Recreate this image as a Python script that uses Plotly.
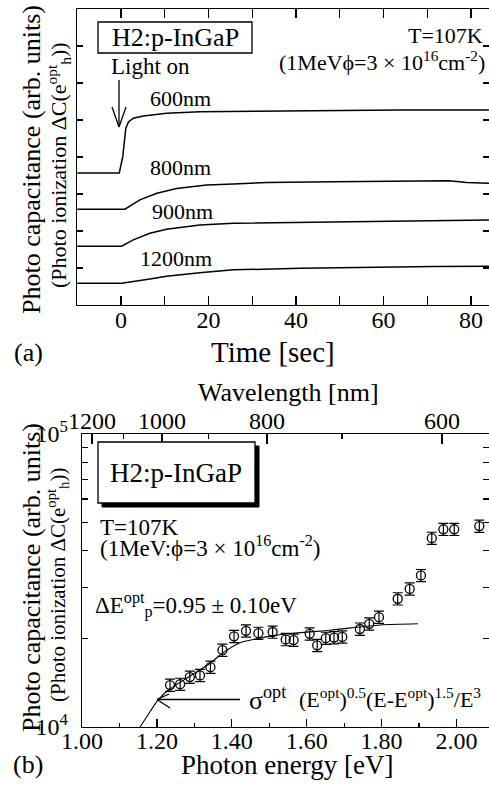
import plotly.graph_objects as go

W, H = 489, 789
FONT = "Liberation Serif"


def X(px):
    return px / W


def Y(py):
    return 1 - py / H


# ---------------- panel (a): transients ----------------
time_600 = [-10, -0.4, 0.4, 0.8, 1.1, 1.7, 2.8, 5.1, 10.4, 18, 33.3, 48.5, 63.8, 84.1]
cap_600 = [3.57, 3.57, 4.01, 4.46, 4.78, 4.95, 5.05, 5.11, 5.18, 5.22, 5.24, 5.27, 5.27, 5.27]

time_800 = [-10, 0.9, 4.3, 8.2, 12.7, 19.6, 25.7, 33.3, 48.5, 63.8, 71.4, 75, 79, 84.1]
cap_800 = [2.59, 2.59, 2.84, 3.02, 3.15, 3.24, 3.27, 3.31, 3.33, 3.35, 3.37, 3.36, 3.31, 3.29]

time_900 = [-10, 0.15, 2.8, 6.6, 10.4, 18, 25.7, 41, 56, 71.4, 84.1]
cap_900 = [1.59, 1.59, 1.76, 1.94, 2.05, 2.16, 2.21, 2.23, 2.25, 2.28, 2.30]

time_1200 = [-10, 0.15, 6.6, 10.4, 18, 25.7, 41, 56, 71.4, 84.1]
cap_1200 = [0.59, 0.59, 0.70, 0.78, 0.87, 0.95, 0.99, 1.02, 1.04, 1.05]

curve_labels = ["600nm", "800nm", "900nm", "1200nm"]

# ---------------- panel (b): spectrum ----------------
energy = [1.235, 1.262, 1.288, 1.315, 1.343, 1.375, 1.406, 1.438, 1.471, 1.509,
          1.544, 1.565, 1.608, 1.628, 1.651, 1.673, 1.695, 1.742, 1.767, 1.793,
          1.843, 1.875, 1.905, 1.934, 1.965, 1.994, 2.061]
capacitance = [1.39e4, 1.40e4, 1.48e4, 1.50e4, 1.60e4, 1.83e4, 2.04e4, 2.13e4, 2.09e4, 2.11e4,
               1.99e4, 1.98e4, 2.08e4, 1.90e4, 2.01e4, 2.02e4, 2.03e4, 2.16e4, 2.25e4, 2.37e4,
               2.74e4, 2.96e4, 3.29e4, 4.41e4, 4.73e4, 4.73e4, 4.85e4]
cap_err = [670, 670, 710, 720, 770, 880, 980, 1020, 1000, 1010,
           960, 950, 1000, 910, 960, 970, 970, 1040, 1080, 1140,
           1320, 1420, 1580, 2100, 2270, 2270, 2330]

fit_energy = [1.155, 1.182, 1.204, 1.235, 1.288, 1.342, 1.376, 1.422, 1.467, 1.510, 1.547, 1.662, 1.796, 1.897]
fit_cap = [1.00e4, 1.13e4, 1.24e4, 1.35e4, 1.49e4, 1.65e4, 1.79e4, 1.94e4, 2.00e4, 2.05e4, 2.08e4, 2.14e4, 2.23e4, 2.25e4]

wavelength_major = [1200, 1000, 800, 600]
wavelength_minor = [1100, 900, 700]
log_minor = [2e4, 3e4, 4e4, 5e4, 6e4, 7e4, 8e4, 9e4]

fig = go.Figure()

line_style = dict(color="black", width=1.5)
for t, c in [(time_600, cap_600), (time_800, cap_800), (time_900, cap_900), (time_1200, cap_1200)]:
    fig.add_trace(go.Scatter(x=t, y=c, mode="lines", line=line_style, xaxis="x", yaxis="y",
                             showlegend=False, hoverinfo="skip"))

fig.add_trace(go.Scatter(x=fit_energy, y=fit_cap, mode="lines",
                         line=dict(color="black", width=1.1, shape="spline", smoothing=0.7),
                         xaxis="x2", yaxis="y2", showlegend=False, hoverinfo="skip"))
fig.add_trace(go.Scatter(x=energy, y=capacitance, mode="markers",
                         marker=dict(symbol="circle-open", size=9, color="black", line=dict(width=1.3)),
                         error_y=dict(type="data", array=cap_err, visible=True, color="black",
                                      thickness=1.2, width=5),
                         xaxis="x2", yaxis="y2", showlegend=False, hoverinfo="skip"))
# helper traces so the extra axes get drawn
fig.add_trace(go.Scatter(x=[None], y=[None], xaxis="x3", yaxis="y2", showlegend=False))
fig.add_trace(go.Scatter(x=[None], y=[None], xaxis="x", yaxis="y3", showlegend=False))
fig.add_trace(go.Scatter(x=[None], y=[None], xaxis="x2", yaxis="y4", showlegend=False))

axis_common = dict(showgrid=False, zeroline=False, showline=True, linecolor="black", linewidth=1.3,
                   ticks="inside", tickcolor="black", tickwidth=1.2, automargin=False,
                   tickfont=dict(family=FONT, size=24, color="black"))

wl_vals = [1000.0 / w for w in wavelength_major]
wl_minor_vals = [1000.0 / w for w in wavelength_minor]

fig.update_layout(
    template="none",
    width=W, height=H,
    margin=dict(l=0, r=0, t=0, b=0, pad=0, autoexpand=False),
    paper_bgcolor="white", plot_bgcolor="white",
    font=dict(family=FONT, color="black"),
    showlegend=False,
    xaxis=dict(axis_common, domain=[X(77), 1], anchor="y", range=[-10.06, 84.11],
               tickmode="linear", tick0=0, dtick=20, ticklen=9, mirror="allticks",
               ticklabelstandoff=-7,
               minor=dict(tickmode="linear", tick0=0, dtick=10, ticks="inside", ticklen=4,
                          tickcolor="black", tickwidth=1.2)),
    yaxis=dict(axis_common, domain=[Y(305), Y(9)], anchor="x", range=[0, 8],
               tickmode="array", tickvals=[1, 2, 3, 4, 5, 6, 7], ticklen=6, showticklabels=False),
    yaxis3=dict(axis_common, overlaying="y", side="right", anchor="x", range=[0, 8], showline=False,
                tickmode="array", tickvals=[1, 2, 3, 4, 5, 6, 7], ticklen=6, showticklabels=False),
    xaxis2=dict(axis_common, domain=[X(82), 1], anchor="y2", range=[1.0, 2.0868],
                tickmode="linear", tick0=1.0, dtick=0.2, tickformat=".2f", ticklen=8,
                ticklabelstandoff=-8,
                minor=dict(tickmode="linear", tick0=1.0, dtick=0.1, ticks="inside", ticklen=4,
                           tickcolor="black", tickwidth=1.2)),
    yaxis2=dict(axis_common, domain=[Y(727), Y(434)], anchor="x2", type="log", range=[4, 5],
                tickmode="array", tickvals=[1e4, 1e5], ticktext=["10<sup>4</sup>", "10<sup>5</sup>"],
                ticklen=7, ticklabelstandoff=8,
                minor=dict(tickmode="array", tickvals=log_minor, ticks="inside", ticklen=6,
                           tickcolor="black", tickwidth=1.2)),
    xaxis3=dict(axis_common, overlaying="x2", side="top", anchor="y2", range=[0.80952, 1.77857],
                tickmode="array", tickvals=wl_vals, ticktext=[str(w) for w in wavelength_major],
                ticklen=10, ticklabelstandoff=-6,
                minor=dict(tickmode="array", tickvals=wl_minor_vals, ticks="inside", ticklen=5,
                           tickcolor="black", tickwidth=1.2)),
    yaxis4=dict(axis_common, overlaying="y2", side="right", anchor="x2", type="log", range=[4, 5],
                showline=False, tickmode="array", tickvals=log_minor, ticklen=6, showticklabels=False),
)


def ann(text, x, y, size, xanchor="center", yanchor="middle", angle=0):
    fig.add_annotation(text=text, x=x, y=y, xref="paper", yref="paper", showarrow=False,
                       xanchor=xanchor, yanchor=yanchor, textangle=angle,
                       font=dict(family=FONT, size=size, color="black"))


# axis titles
ann("Time [sec]", X(273), Y(352), 29)
ann("(a)", X(28), Y(352), 26)
ann("Wavelength [nm]", X(288), Y(392), 26)
ann("Photon energy [eV]", X(287), Y(765), 27)
ann("(b)", X(28), Y(764), 26)
ann("Photo capacitance (arb. units)", X(31), Y(160), 26, angle=-90)
ann("(Photo ionization ΔC(e<sup>opt</sup><sub>h</sub>))", X(58), Y(165), 22, angle=-90)
ann("Photo capacitance (arb. units)", X(31), Y(578), 26, angle=-90)
ann("(Photo ionization ΔC(e<sup>opt</sup><sub>h</sub>))", X(57), Y(585), 21, angle=-90)

# panel (a) texts
ann("H2:p-InGaP", X(175), Y(37.5), 26)
ann("Light on", X(150), Y(67), 23)
ann("T=107K", X(485), Y(35), 22, xanchor="right")
ann("(1MeVϕ=3 × 10<sup>16</sup>cm<sup>-2</sup>)", X(487), Y(61), 22, xanchor="right")
for lab, px, py in zip(curve_labels, [180, 180, 182, 176], [98, 167, 212, 258]):
    ann(lab, X(px), Y(py), 22)

# panel (b) texts
ann("H2:p-InGaP", X(176), Y(473), 27)
ann("T=107K", X(98), Y(527), 23, xanchor="left")
ann("(1MeV:ϕ=3 × 10<sup>16</sup>cm<sup>-2</sup>)", X(98), Y(546), 23, xanchor="left")
ann("ΔE<sup>opt</sup><sub>p</sub>=0.95 ± 0.10eV", X(93), Y(605), 23, xanchor="left")
ann("σ<sup>opt</sup>", X(247), Y(698), 26, xanchor="left")
ann("(E<sup>opt</sup>)<sup>0.5</sup>(E-E<sup>opt</sup>)<sup>1.5</sup>/E<sup>3</sup>", X(297), Y(698), 22,
    xanchor="left")

shapes = []
blk = dict(color="black", width=1.3)
# panel (a) box and arrow
shapes.append(dict(type="rect", xref="paper", yref="paper", x0=X(98), x1=X(252), y0=Y(53), y1=Y(22),
                   line=blk, fillcolor="rgba(0,0,0,0)"))
for x0, y0, x1, y1 in [(119, 80, 119, 127), (112, 107, 119, 127), (126, 107, 119, 127)]:
    shapes.append(dict(type="line", xref="paper", yref="paper", x0=X(x0), y0=Y(y0), x1=X(x1), y1=Y(y1),
                       line=blk))
# panel (b) shadowed box
shapes.append(dict(type="rect", xref="paper", yref="paper", x0=X(102), x1=X(259), y0=Y(507), y1=Y(446),
                   line=dict(color="black", width=1), fillcolor="black"))
shapes.append(dict(type="rect", xref="paper", yref="paper", x0=X(98), x1=X(255), y0=Y(503), y1=Y(442),
                   line=blk, fillcolor="white"))
for x0, y0, x1, y1 in [(240, 699.5, 157, 699.5), (157, 699.5, 169, 694), (157, 699.5, 170, 708)]:
    shapes.append(dict(type="line", xref="paper", yref="paper", x0=X(x0), y0=Y(y0), x1=X(x1), y1=Y(y1),
                       line=blk))
fig.update_layout(shapes=shapes)

fig.write_html("out.html", config={"displayModeBar": False, "staticPlot": True},
               post_script="document.body.style.margin='0px';document.body.style.overflow='hidden';")
